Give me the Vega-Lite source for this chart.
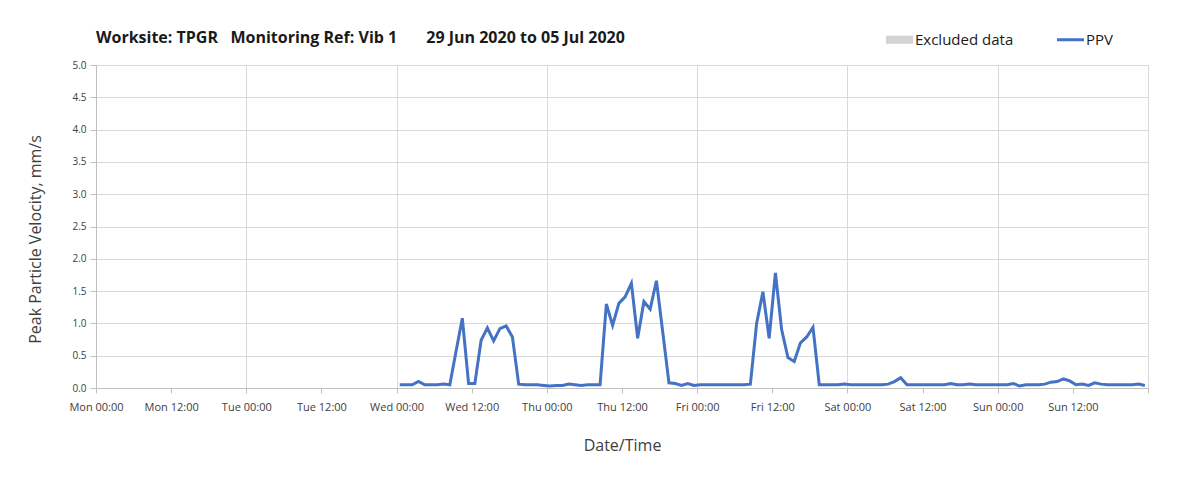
{
  "$schema": "https://vega.github.io/schema/vega-lite/v6.json",
  "autosize": "none",
  "padding": {"left": 96, "top": 65, "right": 55, "bottom": 89},
  "width": 1052,
  "height": 323,
  "background": "white",
  "config": {
    "view": {"stroke": null},
    "font": "Open Sans"
  },
  "title": {
    "text": "Worksite: TPGR\u00a0\u00a0 Monitoring Ref: Vib 1\u00a0\u00a0\u00a0\u00a0\u00a0\u00a0 29 Jun 2020 to 05 Jul 2020",
    "anchor": "start",
    "frame": "group",
    "font": "Open Sans",
    "fontSize": 16,
    "fontWeight": "bold",
    "color": "#1a1a1a",
    "offset": -14
  },
  "data": {
    "values": [
      {"t": "2020-07-01T00:30", "v": 0.05}, {"t": "2020-07-01T01:30", "v": 0.05}, {"t": "2020-07-01T02:30", "v": 0.05}, {"t": "2020-07-01T03:30", "v": 0.10},
      {"t": "2020-07-01T04:30", "v": 0.05}, {"t": "2020-07-01T05:30", "v": 0.05}, {"t": "2020-07-01T06:30", "v": 0.05}, {"t": "2020-07-01T07:30", "v": 0.06},
      {"t": "2020-07-01T08:30", "v": 0.05}, {"t": "2020-07-01T09:30", "v": 0.57}, {"t": "2020-07-01T10:30", "v": 1.08}, {"t": "2020-07-01T11:30", "v": 0.07},
      {"t": "2020-07-01T12:30", "v": 0.07}, {"t": "2020-07-01T13:30", "v": 0.74}, {"t": "2020-07-01T14:30", "v": 0.93}, {"t": "2020-07-01T15:30", "v": 0.73},
      {"t": "2020-07-01T16:30", "v": 0.92}, {"t": "2020-07-01T17:30", "v": 0.96}, {"t": "2020-07-01T18:30", "v": 0.79}, {"t": "2020-07-01T19:30", "v": 0.06},
      {"t": "2020-07-01T20:30", "v": 0.05}, {"t": "2020-07-01T21:30", "v": 0.05}, {"t": "2020-07-01T22:30", "v": 0.05}, {"t": "2020-07-01T23:30", "v": 0.04},
      {"t": "2020-07-02T00:30", "v": 0.03}, {"t": "2020-07-02T01:30", "v": 0.04}, {"t": "2020-07-02T02:30", "v": 0.04}, {"t": "2020-07-02T03:30", "v": 0.06},
      {"t": "2020-07-02T04:30", "v": 0.05}, {"t": "2020-07-02T05:30", "v": 0.04}, {"t": "2020-07-02T06:30", "v": 0.05}, {"t": "2020-07-02T07:30", "v": 0.05},
      {"t": "2020-07-02T08:30", "v": 0.05}, {"t": "2020-07-02T09:30", "v": 1.30}, {"t": "2020-07-02T10:30", "v": 0.97}, {"t": "2020-07-02T11:30", "v": 1.31},
      {"t": "2020-07-02T12:30", "v": 1.41}, {"t": "2020-07-02T13:30", "v": 1.62}, {"t": "2020-07-02T14:30", "v": 0.77}, {"t": "2020-07-02T15:30", "v": 1.34},
      {"t": "2020-07-02T16:30", "v": 1.22}, {"t": "2020-07-02T17:30", "v": 1.66}, {"t": "2020-07-02T18:30", "v": 0.87}, {"t": "2020-07-02T19:30", "v": 0.08},
      {"t": "2020-07-02T20:30", "v": 0.07}, {"t": "2020-07-02T21:30", "v": 0.04}, {"t": "2020-07-02T22:30", "v": 0.07}, {"t": "2020-07-02T23:30", "v": 0.04},
      {"t": "2020-07-03T00:30", "v": 0.05}, {"t": "2020-07-03T01:30", "v": 0.05}, {"t": "2020-07-03T02:30", "v": 0.05}, {"t": "2020-07-03T03:30", "v": 0.05},
      {"t": "2020-07-03T04:30", "v": 0.05}, {"t": "2020-07-03T05:30", "v": 0.05}, {"t": "2020-07-03T06:30", "v": 0.05}, {"t": "2020-07-03T07:30", "v": 0.05},
      {"t": "2020-07-03T08:30", "v": 0.06}, {"t": "2020-07-03T09:30", "v": 1.00}, {"t": "2020-07-03T10:30", "v": 1.49}, {"t": "2020-07-03T11:30", "v": 0.77},
      {"t": "2020-07-03T12:30", "v": 1.78}, {"t": "2020-07-03T13:30", "v": 0.90}, {"t": "2020-07-03T14:30", "v": 0.47}, {"t": "2020-07-03T15:30", "v": 0.41},
      {"t": "2020-07-03T16:30", "v": 0.70}, {"t": "2020-07-03T17:30", "v": 0.79}, {"t": "2020-07-03T18:30", "v": 0.94}, {"t": "2020-07-03T19:30", "v": 0.05},
      {"t": "2020-07-03T20:30", "v": 0.05}, {"t": "2020-07-03T21:30", "v": 0.05}, {"t": "2020-07-03T22:30", "v": 0.05}, {"t": "2020-07-03T23:30", "v": 0.06},
      {"t": "2020-07-04T00:30", "v": 0.05}, {"t": "2020-07-04T01:30", "v": 0.05}, {"t": "2020-07-04T02:30", "v": 0.05}, {"t": "2020-07-04T03:30", "v": 0.05},
      {"t": "2020-07-04T04:30", "v": 0.05}, {"t": "2020-07-04T05:30", "v": 0.05}, {"t": "2020-07-04T06:30", "v": 0.06}, {"t": "2020-07-04T07:30", "v": 0.10},
      {"t": "2020-07-04T08:30", "v": 0.16}, {"t": "2020-07-04T09:30", "v": 0.05}, {"t": "2020-07-04T10:30", "v": 0.05}, {"t": "2020-07-04T11:30", "v": 0.05},
      {"t": "2020-07-04T12:30", "v": 0.05}, {"t": "2020-07-04T13:30", "v": 0.05}, {"t": "2020-07-04T14:30", "v": 0.05}, {"t": "2020-07-04T15:30", "v": 0.05},
      {"t": "2020-07-04T16:30", "v": 0.07}, {"t": "2020-07-04T17:30", "v": 0.05}, {"t": "2020-07-04T18:30", "v": 0.05}, {"t": "2020-07-04T19:30", "v": 0.06},
      {"t": "2020-07-04T20:30", "v": 0.05}, {"t": "2020-07-04T21:30", "v": 0.05}, {"t": "2020-07-04T22:30", "v": 0.05}, {"t": "2020-07-04T23:30", "v": 0.05},
      {"t": "2020-07-05T00:30", "v": 0.05}, {"t": "2020-07-05T01:30", "v": 0.05}, {"t": "2020-07-05T02:30", "v": 0.07}, {"t": "2020-07-05T03:30", "v": 0.03},
      {"t": "2020-07-05T04:30", "v": 0.05}, {"t": "2020-07-05T05:30", "v": 0.05}, {"t": "2020-07-05T06:30", "v": 0.05}, {"t": "2020-07-05T07:30", "v": 0.06},
      {"t": "2020-07-05T08:30", "v": 0.09}, {"t": "2020-07-05T09:30", "v": 0.10}, {"t": "2020-07-05T10:30", "v": 0.14}, {"t": "2020-07-05T11:30", "v": 0.11},
      {"t": "2020-07-05T12:30", "v": 0.05}, {"t": "2020-07-05T13:30", "v": 0.06}, {"t": "2020-07-05T14:30", "v": 0.04}, {"t": "2020-07-05T15:30", "v": 0.08},
      {"t": "2020-07-05T16:30", "v": 0.06}, {"t": "2020-07-05T17:30", "v": 0.05}, {"t": "2020-07-05T18:30", "v": 0.05}, {"t": "2020-07-05T19:30", "v": 0.05},
      {"t": "2020-07-05T20:30", "v": 0.05}, {"t": "2020-07-05T21:30", "v": 0.05}, {"t": "2020-07-05T22:30", "v": 0.06}, {"t": "2020-07-05T23:30", "v": 0.04}
    ]
  },
  "mark": {"type": "line", "strokeWidth": 3, "interpolate": "linear"},
  "encoding": {
    "x": {
      "field": "t",
      "type": "temporal",
      "scale": {
        "domain": [
          {"year": 2020, "month": "jun", "date": 29, "hours": 0},
          {"year": 2020, "month": "jul", "date": 6, "hours": 0}
        ]
      },
      "axis": {
        "values": [
          {"year": 2020, "month": "jun", "date": 29, "hours": 0}, {"year": 2020, "month": "jun", "date": 29, "hours": 12},
          {"year": 2020, "month": "jun", "date": 30, "hours": 0}, {"year": 2020, "month": "jun", "date": 30, "hours": 12},
          {"year": 2020, "month": "jul", "date": 1, "hours": 0}, {"year": 2020, "month": "jul", "date": 1, "hours": 12},
          {"year": 2020, "month": "jul", "date": 2, "hours": 0}, {"year": 2020, "month": "jul", "date": 2, "hours": 12},
          {"year": 2020, "month": "jul", "date": 3, "hours": 0}, {"year": 2020, "month": "jul", "date": 3, "hours": 12},
          {"year": 2020, "month": "jul", "date": 4, "hours": 0}, {"year": 2020, "month": "jul", "date": 4, "hours": 12},
          {"year": 2020, "month": "jul", "date": 5, "hours": 0}, {"year": 2020, "month": "jul", "date": 5, "hours": 12},
          {"year": 2020, "month": "jul", "date": 6, "hours": 0}
        ],
        "labelExpr": "date(datum.value) === 6 ? '' : timeFormat(datum.value, '%a %H:%M')",
        "labelFont": "Open Sans",
        "labelFontSize": 11,
        "labelColor": "#404040",
        "labelPadding": 8,
        "labelOverlap": false,
        "labelFlush": false,
        "tickSize": 5,
        "tickColor": "#bfbfbf",
        "domainColor": "#bfbfbf",
        "grid": true,
        "gridColor": "#d9d9d9",
        "gridOpacity": {"condition": {"test": "hours(datum.value) === 0", "value": 1}, "value": 0},
        "title": "Date/Time",
        "titleFont": "Open Sans",
        "titleFontSize": 16,
        "titleFontWeight": "normal",
        "titleColor": "#404040",
        "titlePadding": 25
      }
    },
    "y": {
      "field": "v",
      "type": "quantitative",
      "scale": {"domain": [0, 5], "nice": false},
      "axis": {
        "values": [0, 0.5, 1, 1.5, 2, 2.5, 3, 3.5, 4, 4.5, 5],
        "format": ".1f",
        "labelFont": "Open Sans",
        "labelFontSize": 10,
        "labelColor": "#404040",
        "labelPadding": 4,
        "tickSize": 6,
        "tickColor": "#bfbfbf",
        "domainColor": "#bfbfbf",
        "grid": true,
        "gridColor": "#d9d9d9",
        "title": "Peak Particle Velocity, mm/s",
        "titleFont": "Open Sans",
        "titleFontSize": 16,
        "titleFontWeight": "normal",
        "titleColor": "#404040",
        "titleAngle": -90,
        "titleAlign": "center",
        "titleBaseline": "middle",
        "titleX": -61,
        "titleY": 174
      }
    },
    "color": {
      "datum": "PPV",
      "type": "nominal",
      "scale": {"domain": ["Excluded data", "PPV"], "range": ["#d3d3d3", "#4472c4"]},
      "legend": {
        "title": null,
        "orient": "none",
        "direction": "horizontal",
        "legendX": 796,
        "legendY": -33,
        "symbolSize": 729,
        "symbolStrokeWidth": 3,
        "labelFont": "Open Sans",
        "labelFontSize": 15,
        "labelColor": "#1a1a1a",
        "labelOffset": 8,
        "columnPadding": 37,
        "encode": {
          "symbols": {
            "update": {
              "shape": {"signal": "datum.value === 'PPV' ? 'stroke' : 'M-1,-0.3H1V0.3H-1Z'"},
              "fill": {"signal": "datum.value === 'PPV' ? 'transparent' : '#d3d3d3'"},
              "strokeWidth": {"signal": "datum.value === 'PPV' ? 3 : 0"}
            }
          }
        }
      }
    }
  }
}
